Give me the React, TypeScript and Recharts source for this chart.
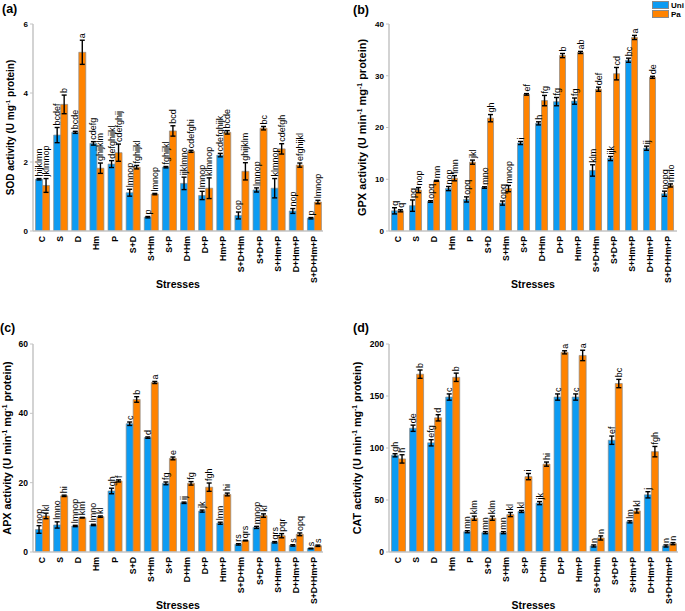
import React from 'react';
import { BarChart, Bar, XAxis, YAxis, ErrorBar, LabelList } from 'recharts';

const FONT = '"Liberation Sans", Arial, sans-serif';
const BLUE = '#0C9BF2';
const ORANGE = '#FF8300';
const AXIS = '#c4c4c4';
const EDGE = '#8a8a8a';

const stresses = ['C', 'S', 'D', 'Hm', 'P', 'S+D', 'S+Hm', 'S+P', 'D+Hm', 'D+P', 'Hm+P', 'S+D+Hm', 'S+D+P', 'S+Hm+P', 'D+Hm+P', 'S+D+Hm+P'];

// (a) SOD
const sodUni = [1.5, 2.78, 2.86, 2.54, 1.94, 1.11, 0.4, 1.85, 1.38, 1.03, 2.2, 0.45, 1.19, 1.24, 0.58, 0.37];
const sodPa = [1.32, 3.67, 5.18, 1.82, 2.27, 1.85, 1.07, 2.9, 2.31, 1.24, 2.86, 1.73, 2.98, 2.38, 1.91, 0.84];
const sodUniErr = [0.02, 0.22, 0.03, 0.05, 0.1, 0.1, 0.02, 0.02, 0.18, 0.12, 0.05, 0.1, 0.06, 0.28, 0.07, 0.02];
const sodPaErr = [0.2, 0.27, 0.35, 0.15, 0.25, 0.05, 0.02, 0.15, 0.03, 0.3, 0.05, 0.25, 0.05, 0.15, 0.06, 0.05];
const sodUniLet = ['hijklmn', 'bcdef', 'bcde', 'cdefg', 'defghijkl', 'lmnop', 'p', 'fghijkl', 'ijklmno', 'lmnop', 'cdefghijk', 'op', 'lmnop', 'klmnop', 'nop', 'p'];
const sodPaLet = ['jklmnop', 'b', 'a', 'ghijklm', 'cdefghij', 'fghijkl', 'lmnop', 'bcd', 'cdefghi', 'klmnop', 'bcde', 'ghijklm', 'bc', 'cdefgh', 'efghijkl', 'lmnop'];

// (b) GPX
const gpxUni = [3.9, 4.9, 5.7, 8.2, 6.1, 8.4, 5.4, 17.0, 20.8, 25.0, 25.1, 11.7, 14.0, 33.0, 16.0, 7.2];
const gpxPa = [3.9, 7.9, 9.7, 10.2, 13.3, 21.8, 8.2, 26.4, 25.2, 33.9, 34.5, 27.4, 30.4, 37.4, 29.7, 8.8];
const gpxUniErr = [0.6, 1.1, 0.15, 0.4, 0.5, 0.15, 0.4, 0.3, 0.3, 0.8, 0.6, 1.1, 0.4, 0.4, 0.4, 0.5];
const gpxPaErr = [0.2, 0.5, 0.1, 0.5, 0.4, 0.7, 0.6, 0.15, 1.0, 0.4, 0.2, 0.4, 1.2, 0.4, 0.2, 0.3];
const gpxUniLet = ['q', 'pq', 'opq', 'nop', 'opq', 'mno', 'opq', 'i', 'h', 'fg', 'fg', 'klm', 'ijk', 'bc', 'ij', 'nopq'];
const gpxPaLet = ['q', 'nop', 'mn', 'lmn', 'jkl', 'gh', 'mnop', 'ef', 'fg', 'b', 'ab', 'def', 'cd', 'a', 'de', 'mno'];

// (c) APX
const apxUni = [6.5, 7.8, 7.5, 7.8, 17.6, 37.0, 33.0, 19.8, 14.2, 11.8, 8.3, 2.2, 7.1, 2.8, 1.9, 1.0];
const apxPa = [10.4, 16.2, 9.9, 10.2, 20.5, 44.0, 48.9, 27.0, 19.8, 18.7, 16.6, 3.3, 10.5, 4.7, 5.1, 1.8];
const apxUniErr = [1.1, 0.9, 0.2, 0.2, 0.8, 0.5, 0.2, 0.4, 0.2, 0.3, 0.3, 0.2, 0.3, 0.2, 0.2, 0.1];
const apxPaErr = [0.8, 0.2, 0.1, 0.2, 0.3, 0.8, 0.3, 0.4, 0.5, 1.2, 0.4, 0.1, 0.5, 0.6, 0.4, 0.2];
const apxUniLet = ['nop', 'lmno', 'lmnop', 'lmno', 'gh', 'c', 'd', 'fg', 'ij', 'jk', 'lmn', 'rs', 'mnop', 'qrs', 's', 's'];
const apxPaLet = ['kl', 'hi', 'klm', 'kl', 'f', 'b', 'a', 'e', 'fg', 'fgh', 'hi', 'qrs', 'kl', 'pqr', 'opq', 's'];

// (d) CAT
const catUni = [93, 119, 105, 149, 19.5, 18.6, 18.6, 39, 47, 149, 149, 5.8, 107.5, 29, 55, 5.8];
const catPa = [89.5, 171, 129, 168, 32.5, 32.5, 36, 72.5, 84.5, 192, 189, 13.5, 162, 39.5, 96.5, 8];
const catUniErr = [1.5, 3, 3, 3, 1, 1, 1, 1, 1.5, 3, 3, 1, 4, 1, 3, 1];
const catPaErr = [4, 4, 3, 4, 2, 2, 2, 3, 2, 1.5, 5, 2, 4, 2, 5, 1];
const catUniLet = ['gh', 'de', 'efg', 'c', 'mn', 'mn', 'mn', 'kl', 'jk', 'c', 'c', 'n', 'ef', 'lm', 'j', 'n'];
const catPaLet = ['h', 'b', 'd', 'b', 'klm', 'klm', 'kl', 'i', 'hi', 'a', 'a', 'n', 'bc', 'kl', 'fgh', 'n'];

type Seg = { t: string; sup?: boolean };

const buildRows = (uni: number[], pa: number[], ue: number[], pe: number[], ul: string[], pl: string[]) =>
  stresses.map((s, i) => ({
    name: s,
    uni: uni[i],
    pa: pa[i],
    uniErr: ue[i],
    paErr: pe[i],
    uniTag: `${ul[i]}|${ue[i]}|${uni[i]}`,
    paTag: `${pl[i]}|${pe[i]}|${pa[i]}`,
  }));

// letters sit just above the error bar cap
const letterLabel = (props: any) => {
  const vb = props.viewBox || {};
  const x = Number(vb.x ?? props.x);
  const y = Number(vb.y ?? props.y);
  const w = Number(vb.width ?? props.width);
  const h = Math.abs(Number(vb.height ?? props.height));
  const [letter, err, val] = String(props.value).split('|');
  const v = Number(val);
  const top = y - (v > 0 ? (Number(err) * h) / v : 0) - 2;
  const cx = x + w / 2;
  return (
    <text
      x={cx}
      y={top}
      transform={`rotate(-90 ${cx} ${top})`}
      textAnchor="start"
      dominantBaseline="central"
      fontSize={9}
      fontFamily={FONT}
      fill="#000"
    >
      {letter}
    </text>
  );
};

const xTick = (props: any) => {
  const { x, y, payload } = props;
  return (
    <text
      transform={`translate(${x},${y}) rotate(-90)`}
      textAnchor="end"
      dy="0.35em"
      fontSize={8.7}
      fontWeight="bold"
      fontFamily={FONT}
      fill="#000"
    >
      {payload.value}
    </text>
  );
};

const xTitle = (props: any) => {
  const vb = props.viewBox;
  return (
    <text x={vb.x + vb.width / 2} y={vb.y + 57} textAnchor="middle" fontSize={10.5} fontWeight="bold" fontFamily={FONT} fill="#000">
      Stresses
    </text>
  );
};

const makeYTitle = (segs: Seg[], cx: number, fs: number) => (props: any) => {
  const vb = props.viewBox;
  const cy = vb.y + vb.height / 2;
  return (
    <text
      x={cx}
      y={cy}
      transform={`rotate(-90 ${cx} ${cy})`}
      textAnchor="middle"
      dy="0.35em"
      fontSize={fs}
      fontWeight="bold"
      fontFamily={FONT}
      fill="#000"
    >
      {segs.map((s, i) =>
        s.sup ? (
          <tspan key={i} dy={-fs * 0.4} fontSize={fs * 0.62}>
            {s.t}
          </tspan>
        ) : (
          <tspan key={i} dy={i > 0 && segs[i - 1].sup ? fs * 0.4 : 0}>
            {s.t}
          </tspan>
        )
      )}
    </text>
  );
};

type PanelProps = {
  left: number;
  top: number;
  width: number;
  height: number;
  marginTop: number;
  marginRight: number;
  marginBottom: number;
  yWidth: number;
  title: string;
  titleX: number;
  titleY: number;
  ySegs: Seg[];
  yTitleX: number;
  yTitleSize: number;
  tickSize: number;
  max: number;
  ticks: number[];
  rows: any[];
};

function Panel(p: PanelProps) {
  return (
    <div style={{ position: 'absolute', left: p.left, top: p.top, width: p.width, height: p.height }}>
      <BarChart
        width={p.width}
        height={p.height}
        data={p.rows}
        margin={{ top: p.marginTop, right: p.marginRight, left: 0, bottom: p.marginBottom }}
        barCategoryGap="14%"
        barGap={0}
      >
        <XAxis
          dataKey="name"
          interval={0}
          height={60}
          tickSize={0}
          tickMargin={5}
          tickLine={false}
          axisLine={{ stroke: AXIS, strokeWidth: 1.5 }}
          tick={xTick}
          label={{ content: xTitle }}
        />
        <YAxis
          width={p.yWidth}
          domain={[0, p.max]}
          ticks={p.ticks}
          interval={0}
          allowDataOverflow
          tickSize={3}
          tickMargin={2}
          axisLine={{ stroke: AXIS, strokeWidth: 1.5 }}
          tickLine={{ stroke: AXIS }}
          tick={{ fontSize: p.tickSize, fontWeight: 'bold', fill: '#000', fontFamily: FONT }}
          label={{ content: makeYTitle(p.ySegs, p.yTitleX, p.yTitleSize) }}
        />
        <Bar dataKey="uni" fill={BLUE} stroke={EDGE} strokeWidth={0.7} isAnimationActive={false}>
          <ErrorBar dataKey="uniErr" width={2.5} stroke="#000" strokeWidth={1.4} isAnimationActive={false} />
          <LabelList dataKey="uniTag" content={letterLabel} />
        </Bar>
        <Bar dataKey="pa" fill={ORANGE} stroke={EDGE} strokeWidth={0.7} isAnimationActive={false}>
          <ErrorBar dataKey="paErr" width={2.5} stroke="#000" strokeWidth={1.4} isAnimationActive={false} />
          <LabelList dataKey="paTag" content={letterLabel} />
        </Bar>
      </BarChart>
      <div
        style={{
          position: 'absolute',
          left: p.titleX,
          top: p.titleY,
          fontSize: 12.5,
          fontWeight: 'bold',
          fontFamily: FONT,
          lineHeight: 1,
        }}
      >
        {p.title}
      </div>
    </div>
  );
}

function Legend() {
  const item = (color: string, label: string, top: number) => (
    <div style={{ position: 'absolute', left: 652, top, display: 'flex', alignItems: 'center', height: 8 }}>
      <div style={{ width: 15, height: 6, background: color, border: `1px solid ${EDGE}` }} />
      <span style={{ marginLeft: 2, fontSize: 8, fontWeight: 'bold', fontFamily: FONT }}>{label}</span>
    </div>
  );
  return (
    <>
      {item(BLUE, 'Uni', 1)}
      {item(ORANGE, 'Pa', 10)}
    </>
  );
}

const sodRows = buildRows(sodUni, sodPa, sodUniErr, sodPaErr, sodUniLet, sodPaLet);
const gpxRows = buildRows(gpxUni, gpxPa, gpxUniErr, gpxPaErr, gpxUniLet, gpxPaLet);
const apxRows = buildRows(apxUni, apxPa, apxUniErr, apxPaErr, apxUniLet, apxPaLet);
const catRows = buildRows(catUni, catPa, catUniErr, catPaErr, catUniLet, catPaLet);

export default function App() {
  return (
    <div style={{ position: 'absolute', left: 0, top: 0, width: 685, height: 611, background: '#fff', overflow: 'hidden' }}>
      <Panel
        left={0} top={0} width={340} height={300} marginTop={24} marginRight={17} marginBottom={9} yWidth={33}
        title="(a)" titleX={2} titleY={3}
        ySegs={[{ t: 'SOD activity (U mg' }, { t: '-1', sup: true }, { t: ' protein)' }]}
        yTitleX={13.5} yTitleSize={10} tickSize={8}
        max={6} ticks={[0, 2, 4, 6]} rows={sodRows}
      />
      <Panel
        left={343} top={0} width={342} height={300} marginTop={24} marginRight={8} marginBottom={9} yWidth={46}
        title="(b)" titleX={10} titleY={4}
        ySegs={[{ t: 'GPX activity (U min' }, { t: '-1', sup: true }, { t: ' mg' }, { t: '-1', sup: true }, { t: ' protein)' }]}
        yTitleX={23} yTitleSize={11} tickSize={8}
        max={40} ticks={[0, 10, 20, 30, 40]} rows={gpxRows}
      />
      <Panel
        left={0} top={300} width={340} height={311} marginTop={44} marginRight={17} marginBottom={-1} yWidth={33}
        title="(c)" titleX={0} titleY={22}
        ySegs={[{ t: 'APX activity (U min' }, { t: '-1', sup: true }, { t: ' mg' }, { t: '-1', sup: true }, { t: ' protein)' }]}
        yTitleX={11} yTitleSize={10.8} tickSize={8.5}
        max={60} ticks={[0, 20, 40, 60]} rows={apxRows}
      />
      <Panel
        left={343} top={300} width={342} height={311} marginTop={44} marginRight={7} marginBottom={-1} yWidth={46}
        title="(d)" titleX={10} titleY={22}
        ySegs={[{ t: 'CAT activity (U min' }, { t: '-1', sup: true }, { t: ' mg' }, { t: '-1', sup: true }, { t: ' protein)' }]}
        yTitleX={18} yTitleSize={10.8} tickSize={8.5}
        max={200} ticks={[0, 50, 100, 150, 200]} rows={catRows}
      />
      <Legend />
    </div>
  );
}
